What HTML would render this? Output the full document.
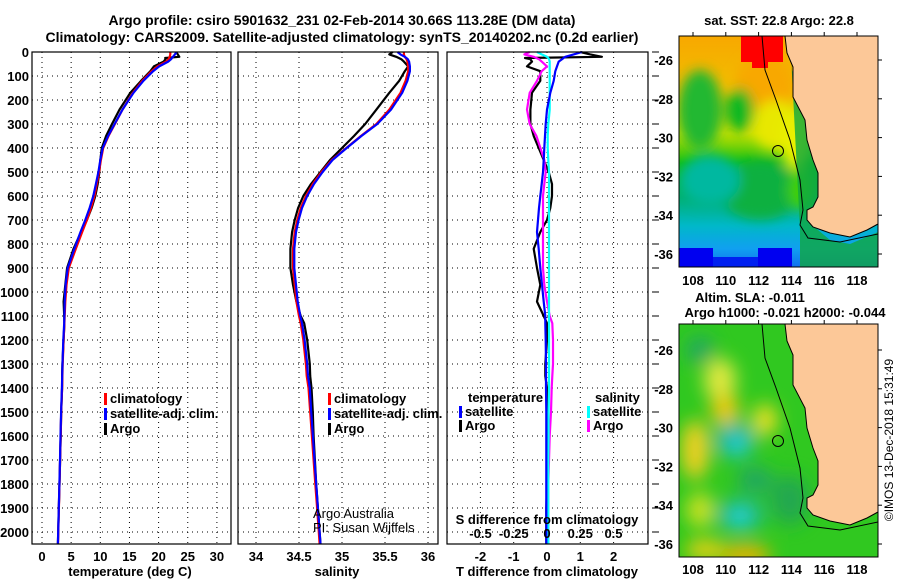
<!DOCTYPE html>
<html><head><meta charset="utf-8">
<style>
html,body{margin:0;padding:0;background:#fff;}
svg{display:block;font-family:"Liberation Sans",sans-serif;}
.b{font-weight:bold;font-size:13px;fill:#000;}
.t{font-weight:bold;font-size:14px;fill:#000;}
</style></head>
<body>
<svg id="chart" width="900" height="580" viewBox="0 0 900 580" xmlns="http://www.w3.org/2000/svg">
<defs>
<filter id="blur6" x="-20%" y="-20%" width="140%" height="140%"><feGaussianBlur stdDeviation="6"/></filter>
<filter id="blur9" x="-30%" y="-30%" width="160%" height="160%"><feGaussianBlur stdDeviation="9"/></filter>
<clipPath id="clipTop"><rect x="679" y="36" width="199" height="231"/></clipPath>
<clipPath id="clipBot"><rect x="679" y="324" width="199" height="233"/></clipPath>
<linearGradient id="sstGrad" x1="0" y1="0" x2="0" y2="1">
<stop offset="0" stop-color="#f8a800"/><stop offset="0.25" stop-color="#f0c000"/><stop offset="0.42" stop-color="#c8e000"/>
<stop offset="0.55" stop-color="#10c010"/><stop offset="0.7" stop-color="#00b070"/><stop offset="0.82" stop-color="#00b8c8"/>
<stop offset="0.92" stop-color="#10a0f0"/><stop offset="1" stop-color="#1070f0"/></linearGradient>
</defs>
<text class="t" x="342" y="25" text-anchor="middle">Argo profile: csiro 5901632_231 02-Feb-2014 30.66S 113.28E (DM data)</text>
<text class="t" x="342" y="42" text-anchor="middle">Climatology: CARS2009. Satellite-adjusted climatology: synTS_20140202.nc (0.2d earlier)</text>
<g id="grids"></g>
<g id="series"></g>
<g id="frames"></g>
<g id="labels"></g>

<!-- top map -->
<g>
<text class="b" x="779" y="25" text-anchor="middle">sat. SST: 22.8 Argo: 22.8</text>
<g clip-path="url(#clipTop)">
<rect x="679" y="36" width="199" height="231" fill="url(#sstGrad)"/>
<g filter="url(#blur6)">
<ellipse cx="765" cy="85" rx="30" ry="30" fill="#f8a800"/>
<ellipse cx="700" cy="110" rx="22" ry="40" fill="#20b830"/>
<ellipse cx="740" cy="110" rx="14" ry="22" fill="#10b820"/>
<ellipse cx="775" cy="125" rx="22" ry="25" fill="#e8e800"/>
<ellipse cx="795" cy="140" rx="14" ry="30" fill="#e8f000"/>
<ellipse cx="760" cy="190" rx="40" ry="30" fill="#10b040"/>
<ellipse cx="800" cy="190" rx="12" ry="20" fill="#40d000"/>
<ellipse cx="710" cy="180" rx="30" ry="25" fill="#00b8a0"/>
</g>
<rect x="741" y="36" width="42" height="26" fill="#ff0000"/>
<rect x="752" y="60" width="16" height="8" fill="#ff0000"/>
<rect x="679" y="248" width="34" height="19" fill="#0000f0"/>
<rect x="758" y="248" width="34" height="19" fill="#0000f0"/>
<rect x="713" y="257" width="45" height="10" fill="#0020f0"/>
<path d="M790,36 L792,70 L800,100 L810,130 L815,160 L820,185 L815,205 L812,225 L830,240 L850,244 L878,232 L878,267 L800,267 L800,230 Z" fill="#10a840" opacity="0.8"/>
<polygon points="785,36 787,53 793,67 793,97 805,120 807,140 813,160 818,173 818,197 813,207 807,210 807,220 813,227 830,233 850,237 867,230 878,224 878,36" fill="#fcc898" stroke="#000" stroke-width="1"/>
<polyline points="762,36 765,70 776,100 790,140 800,180 803,210 800,225 808,238 840,242 878,234" fill="none" stroke="#000" stroke-width="1"/>
<circle cx="778" cy="151" r="5.5" fill="none" stroke="#000" stroke-width="1"/>
</g>
<rect x="679" y="36" width="199" height="231" fill="none" stroke="#000" stroke-width="1"/>
<g id="mapTopAxes"></g>
</g>

<!-- bottom map -->
<g>
<text class="b" x="750" y="302" text-anchor="middle">Altim. SLA: -0.011</text>
<text class="b" x="785" y="317" text-anchor="middle">Argo h1000: -0.021 h2000: -0.044</text>
<g clip-path="url(#clipBot)">
<rect x="679" y="324" width="199" height="233" fill="#30c820"/>
<g filter="url(#blur9)">
<ellipse cx="720" cy="380" rx="16" ry="22" fill="#e0e840"/>
<ellipse cx="725" cy="410" rx="14" ry="16" fill="#f0c800"/>
<ellipse cx="695" cy="450" rx="14" ry="30" fill="#f0d020"/>
<ellipse cx="765" cy="420" rx="12" ry="16" fill="#f0e020"/>
<ellipse cx="735" cy="440" rx="20" ry="18" fill="#20b8a0"/>
<ellipse cx="738" cy="445" rx="8" ry="8" fill="#20d8e8"/>
<ellipse cx="755" cy="480" rx="18" ry="14" fill="#20a860"/>
<ellipse cx="740" cy="515" rx="24" ry="16" fill="#20b890"/>
<ellipse cx="740" cy="517" rx="8" ry="8" fill="#20e0f0"/>
<ellipse cx="700" cy="350" rx="14" ry="14" fill="#20a860"/>
<ellipse cx="700" cy="510" rx="14" ry="18" fill="#c8e020"/>
<ellipse cx="745" cy="555" rx="26" ry="10" fill="#f8b000"/>
<ellipse cx="705" cy="550" rx="20" ry="10" fill="#f0d010"/>
<ellipse cx="790" cy="500" rx="20" ry="25" fill="#20a850"/>
</g>
<polygon points="785,324 787,341 793,355 793,385 805,408 807,428 813,448 818,461 818,485 813,495 807,498 807,508 813,515 830,521 850,525 867,518 878,512 878,324" fill="#fcc898" stroke="#000" stroke-width="1"/>
<polyline points="762,324 765,358 776,388 790,428 800,468 803,498 800,513 808,526 840,530 878,522" fill="none" stroke="#000" stroke-width="1"/>
<circle cx="778" cy="441" r="5.5" fill="none" stroke="#000" stroke-width="1"/>
</g>
<rect x="679" y="324" width="199" height="233" fill="none" stroke="#000" stroke-width="1"/>
<g id="mapBotAxes"></g>
</g>
<text x="893" y="440" font-size="12" fill="#000" text-anchor="middle" transform="rotate(-90 893 440)">©IMOS 13-Dec-2018 15:31:49</text>
</svg>
<script>
// ---- data ----
const depths = [0,10,20,25,30,40,60,80,120,170,240,300,350,400,450,500,550,600,650,700,750,820,900,970,1040,1100,1130,1200,1300,1350,1400,1500,1600,1700,1800,1900,2000,2050];
const climT = [22.0,22.0,21.9,21.8,21.7,21.3,19.8,18.8,17.2,15.6,13.8,12.5,11.4,10.5,10.1,9.8,9.4,9.0,8.4,7.7,6.9,5.8,4.6,4.2,4.0,3.9,3.85,3.7,3.55,3.5,3.45,3.3,3.2,3.1,3.0,2.9,2.8,2.75];
const satDT = [1.05,0.8,0.55,0.5,0.45,0.35,0.3,0.25,0.2,0.1,0.0,-0.04,-0.06,-0.08,-0.1,-0.12,-0.16,-0.2,-0.24,-0.27,-0.3,-0.25,-0.2,-0.15,-0.1,-0.05,-0.05,-0.04,-0.03,-0.03,-0.03,-0.02,-0.02,-0.02,-0.02,-0.02,-0.02,-0.02];
const argoDT = [1.0,1.3,1.65,-0.66,-0.5,-0.45,-0.6,-0.2,-0.2,-0.45,-0.5,-0.5,-0.4,-0.25,-0.1,0.05,0.15,0.15,0.1,0.0,-0.2,-0.4,-0.3,-0.2,-0.3,-0.1,0,0,-0.05,-0.05,0,0,0,0,0,-0.02,-0.02,-0.02];
const climS = [35.72,35.72,35.73,35.74,35.75,35.76,35.77,35.77,35.74,35.68,35.55,35.40,35.22,35.05,34.88,34.76,34.66,34.58,34.52,34.48,34.45,34.43,34.43,34.45,34.47,34.50,34.52,34.55,34.58,34.59,34.61,34.63,34.65,34.67,34.69,34.71,34.73,34.74];
const satDS = [-0.075,-0.04,0,0.01,0.015,0.02,0.02,0.02,0.02,0.02,0.02,0.01,0.005,0.005,0.01,0.015,0.015,0.015,0.015,0.015,0.015,0.015,0.015,0.015,0.015,0.015,0.015,0.015,0.015,0.015,0.015,0.012,0.012,0.01,0.01,0.01,0.01,0.01];
const argoDS = [-0.13,-0.17,-0.1,-0.08,-0.06,-0.04,0,-0.04,-0.075,-0.13,-0.15,-0.13,-0.08,-0.05,-0.02,-0.01,-0.02,-0.03,-0.03,-0.03,-0.03,-0.03,-0.03,-0.02,0,0.02,0.04,0.045,0.045,0.04,0.035,0.03,0.02,0.015,0.01,0.01,0.01,0.01];
const depthTicks = [0,100,200,300,400,500,600,700,800,900,1000,1100,1200,1300,1400,1500,1600,1700,1800,1900,2000];
const tTicks = [0,5,10,15,20,25,30];
const sTicks = [34,34.5,35,35.5,36];
const sTickLabels = ["34","34.5","35","35.5","36"];
const dTTicks = [-2,-1,0,1,2];
const dSTicks = [-0.5,-0.25,0,0.25,0.5];
const dSTickLabels = ["-0.5","-0.25","0","0.25","0.5"];
const latTicks = [-26,-28,-30,-32,-34,-36];
const lonTicks = [108,110,112,114,116,118];

// ---- scales ----
const Y0=52, YS=0.24;
const y = d => Y0 + d*YS;
const xT = v => 42 + v*5.83;
const xS = v => 256 + (v-34)*86;
const xdT = v => 547 + v*33.3;
const xdS = v => 547 + v*133;
const lonX = v => 693 + (v-108)*16.4;
const latY = (v,off) => 60 + off + (-26 - v)*19.4;
const panels = [{x0:32,x1:231},{x0:238,x1:438},{x0:447,x1:648}];
const NS='http://www.w3.org/2000/svg';
function mk(tag, attrs, parent){const e=document.createElementNS(NS,tag);for(const k in attrs)e.setAttribute(k,attrs[k]);parent.appendChild(e);return e;}
const grids=document.getElementById('grids'), series=document.getElementById('series'), frames=document.getElementById('frames'), labels=document.getElementById('labels');
const yb = 544;

// grids
panels.forEach((p,i)=>{
  depthTicks.forEach(d=>{ if(d===0) return;
    const l=mk('line',{x1:p.x0,x2:p.x1,y1:y(d),y2:y(d),stroke:'#000','stroke-width':1,'stroke-dasharray':'1,4'},grids);
    
    
  });
});
const vx = [tTicks.map(xT), sTicks.map(xS), dTTicks.map(xdT)];
vx.forEach((arr,i)=>arr.forEach(x=>{
  if(x<=panels[i].x0+1||x>=panels[i].x1-1) return;
  const l=mk('line',{x1:x,x2:x,y1:Y0,y2:yb,stroke:'#000','stroke-width':1,'stroke-dasharray':'1,4'},grids);
  
  
}));
panels.forEach(p=>{
  const r=mk('rect',{x:p.x0,y:Y0,width:p.x1-p.x0,height:yb-Y0,fill:'none',stroke:'#000','stroke-width':1.2},frames);
  
  
});
depthTicks.forEach(d=>{
  const l=mk('line',{x1:652,x2:659,y1:y(d),y2:y(d),stroke:'#000','stroke-width':1},frames);
  
  
});

// lines
function line(xs, color, name, w){
  const pts=depths.map((d,i)=>xs[i].toFixed(1)+','+y(d).toFixed(1)).join(' ');
  const pl=mk('polyline',{points:pts,fill:'none',stroke:color,'stroke-width':w||2.2,'stroke-linejoin':'round'},series);
  
  
}
line(depths.map((d,i)=>xT(climT[i]+argoDT[i])),'#000','argo-temperature-line');
line(depths.map((d,i)=>xT(climT[i])),'#ff0000','climatology-temperature-line');
line(depths.map((d,i)=>xT(climT[i]+satDT[i])),'#0000ff','satellite-temperature-line');
line(depths.map((d,i)=>xS(climS[i]+argoDS[i])),'#000','argo-salinity-line');
line(depths.map((d,i)=>xS(climS[i])),'#ff0000','climatology-salinity-line');
line(depths.map((d,i)=>xS(climS[i]+satDS[i])),'#0000ff','satellite-salinity-line');
line(depths.map((d,i)=>xdT(argoDT[i])),'#000','argo-temperature-diff-line');
line(depths.map((d,i)=>xdS(argoDS[i])),'#ff00ff','argo-salinity-diff-line');
line(depths.map((d,i)=>xdS(satDS[i])),'#00ffff','satellite-salinity-diff-line');
line(depths.map((d,i)=>xdT(satDT[i])),'#0000ff','satellite-temperature-diff-line');

// labels
function txt(x,yy,s,anchor,name,cls,size){
  const t=mk('text',{x:x,y:yy,'text-anchor':anchor||'middle','class':cls||'b'},labels);
  if(size) t.setAttribute('font-size',size);
  t.textContent=s;
  
  
  return t;
}
depthTicks.forEach(d=>txt(29,y(d)+5,String(d),'end','depth-tick-label'));
tTicks.forEach(v=>txt(xT(v),561,String(v),'middle','temperature-tick-label'));
sTicks.forEach((v,i)=>txt(xS(v),561,sTickLabels[i],'middle','salinity-tick-label'));
dTTicks.forEach(v=>txt(xdT(v),561,String(v),'middle','t-diff-tick-label'));
dSTicks.forEach((v,i)=>txt(xdS(v),538,dSTickLabels[i],'middle','s-diff-tick-label'));
txt(130,576,'temperature (deg C)','middle','temperature-axis-title');
txt(337,576,'salinity','middle','salinity-axis-title');
txt(547,576,'T difference from climatology','middle','t-diff-axis-title');
txt(547,524,'S difference from climatology','middle','s-diff-axis-title');

function legend(x,yy,color,label,name){
  const r=mk('rect',{x:x,y:yy-10,width:3,height:12,fill:color},labels);
  
  
  txt(x+6,yy,label,'start',name);
}
legend(104,403,'#ff0000','climatology','legend-climatology-t');
legend(104,418,'#0000ff','satellite-adj. clim.','legend-satellite-t');
legend(104,433,'#000','Argo','legend-argo-t');
legend(328,403,'#ff0000','climatology','legend-climatology-s');
legend(328,418,'#0000ff','satellite-adj. clim.','legend-satellite-s');
legend(328,433,'#000','Argo','legend-argo-s');
txt(468,402,'temperature','start','legend-temperature-heading');
legend(459,416,'#0000ff','satellite','legend-satellite-dt');
legend(459,430,'#000','Argo','legend-argo-dt');
txt(595,402,'salinity','start','legend-salinity-heading');
legend(587,416,'#00ffff','satellite','legend-satellite-ds');
legend(587,430,'#ff00ff','Argo','legend-argo-ds');
txt(313,518,'Argo Australia','start','credit-line-1','', '12').setAttribute('style','font-weight:normal');
txt(313,532,'PI: Susan Wijffels','start','credit-line-2','', '12').setAttribute('style','font-weight:normal');

// map axes
function mapAxes(gid, off, bottomY, top, bot){
  const g=document.getElementById(gid);
  latTicks.forEach(v=>{
    const yy=latY(v,off);
    const t=mk('text',{x:673,y:yy+5,'text-anchor':'end','class':'b'},g); t.textContent=String(v);
    
    
    const l=mk('line',{x1:878,x2:882,y1:yy,y2:yy,stroke:'#000'},g);
    
    
  });
  lonTicks.forEach(v=>{
    const x=lonX(v);
    const t=mk('text',{x:x,y:bottomY,'text-anchor':'middle','class':'b'},g); t.textContent=String(v);
    
    
    const l=mk('line',{x1:x,x2:x,y1:top-4,y2:top,stroke:'#000'},g);
    
    
  });
}
mapAxes('mapTopAxes',0,285,36,267);
mapAxes('mapBotAxes',290,574,324,557);
</script>
</body></html>
